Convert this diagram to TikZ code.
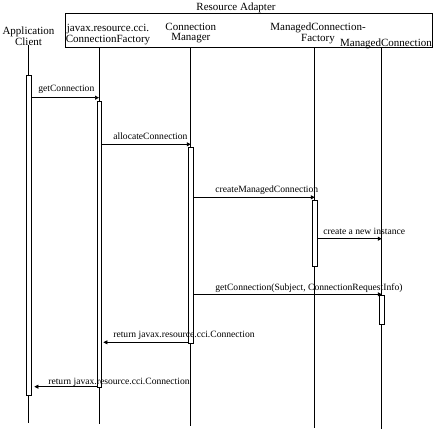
\documentclass[tikz,border=0pt]{standalone}
\usepackage{fontspec}
\setmainfont{Liberation Serif}
\usetikzlibrary{arrows.meta,positioning}

\begin{document}
\begin{tikzpicture}[x=1pt,y=-1pt,line width=.7pt,
  head/.style={align=center,inner sep=0pt,font=\fontsize{11}{10.5}\selectfont},
  lbl/.style={anchor=base west,inner sep=0pt,font=\fontsize{9.6}{10}\selectfont},
  msg/.style={-{Triangle[length=4pt,width=4pt]}},
  act/.style={draw,fill=white,inner sep=0pt,minimum width=5pt,anchor=north}]
\useasboundingbox (0,0) rectangle (440,442);
% heads
\node[draw,inner sep=0pt,minimum width=367.5pt,minimum height=34pt](rabox)at(248.75,30.5){};
\node[head,anchor=base](ratitle)at(236,10){Resource Adapter};
\node[head](ac)at(28.5,36){Application\\Client};
\node[head](cf)at(108,34.5){javax.resource.cci.\\ConnectionFactory};
\node[head](cm)at(190.8,33){Connection\\Manager};
\node[head](mcf)at(318,33.5){ManagedConnection-\\Factory};
\node[head,anchor=base](mc)at(386,46){ManagedConnection};
% lifelines
\coordinate(ac-end)at(28.5,422.7);
\coordinate(cf-end)at(99,423.7);
\coordinate(cm-end)at(190.8,426);
\coordinate(mcf-end)at(314.8,427.7);
\coordinate(mc-end)at(381.8,429.3);
\draw(ac.south)--(ac-end);
\foreach \l in {cf,cm,mcf,mc}
  \draw(\l-end |- rabox.south)--(\l-end);
% activations
\node[act,minimum height=320pt](ac-bar)at(28.5,75){};
\node[act,minimum width=4pt,minimum height=286.5pt](cf-bar)at(99,100.5){};
\node[act,minimum height=196pt](cm-bar)at(190.8,147){};
\node[act,minimum height=65.7pt](mcf-bar)at(314.8,200){};
\node[act,minimum height=29pt](mc-bar)at(381.8,295.3){};
% messages
\draw[msg](ac-bar.east |- 0,97.7)--(cf-end |- 0,97.7);
\node[lbl](m1)at(38,91){getConnection};
\draw[msg](cf-bar.east |- 0,144.3)--(cm-end |- 0,144.3);
\node[lbl](m2)at(113,139.3){allocateConnection};
\draw[msg](cm-bar.east |- 0,197.3)--(mcf-end |- 0,197.3);
\node[lbl](m3)at(215,192.7){createManagedConnection};
\draw[msg](mcf-bar.east |- 0,238.7)--(mc-end |- 0,238.7);
\node[lbl](m4)at(323,234.3){create a new instance};
\draw[msg](cm-bar.east |- 0,294.3)--(mc-end |- 0,294.3);
\node[lbl](m5)at(215,290){getConnection(Subject, ConnectionRequestInfo)};
\draw[msg](cm-bar.west |- 0,342.3)--([xshift=2pt]cf-bar.east |- 0,342.3);
\node[lbl](m6)at(113,337.7){return javax.resource.cci.Connection};
\draw[msg](cf-bar.west |- 0,386.7)--([xshift=3pt]ac-bar.east |- 0,386.7);
\node[lbl](m7)at(48,384.3){return javax.resource.cci.Connection};
\end{tikzpicture}
\end{document}
